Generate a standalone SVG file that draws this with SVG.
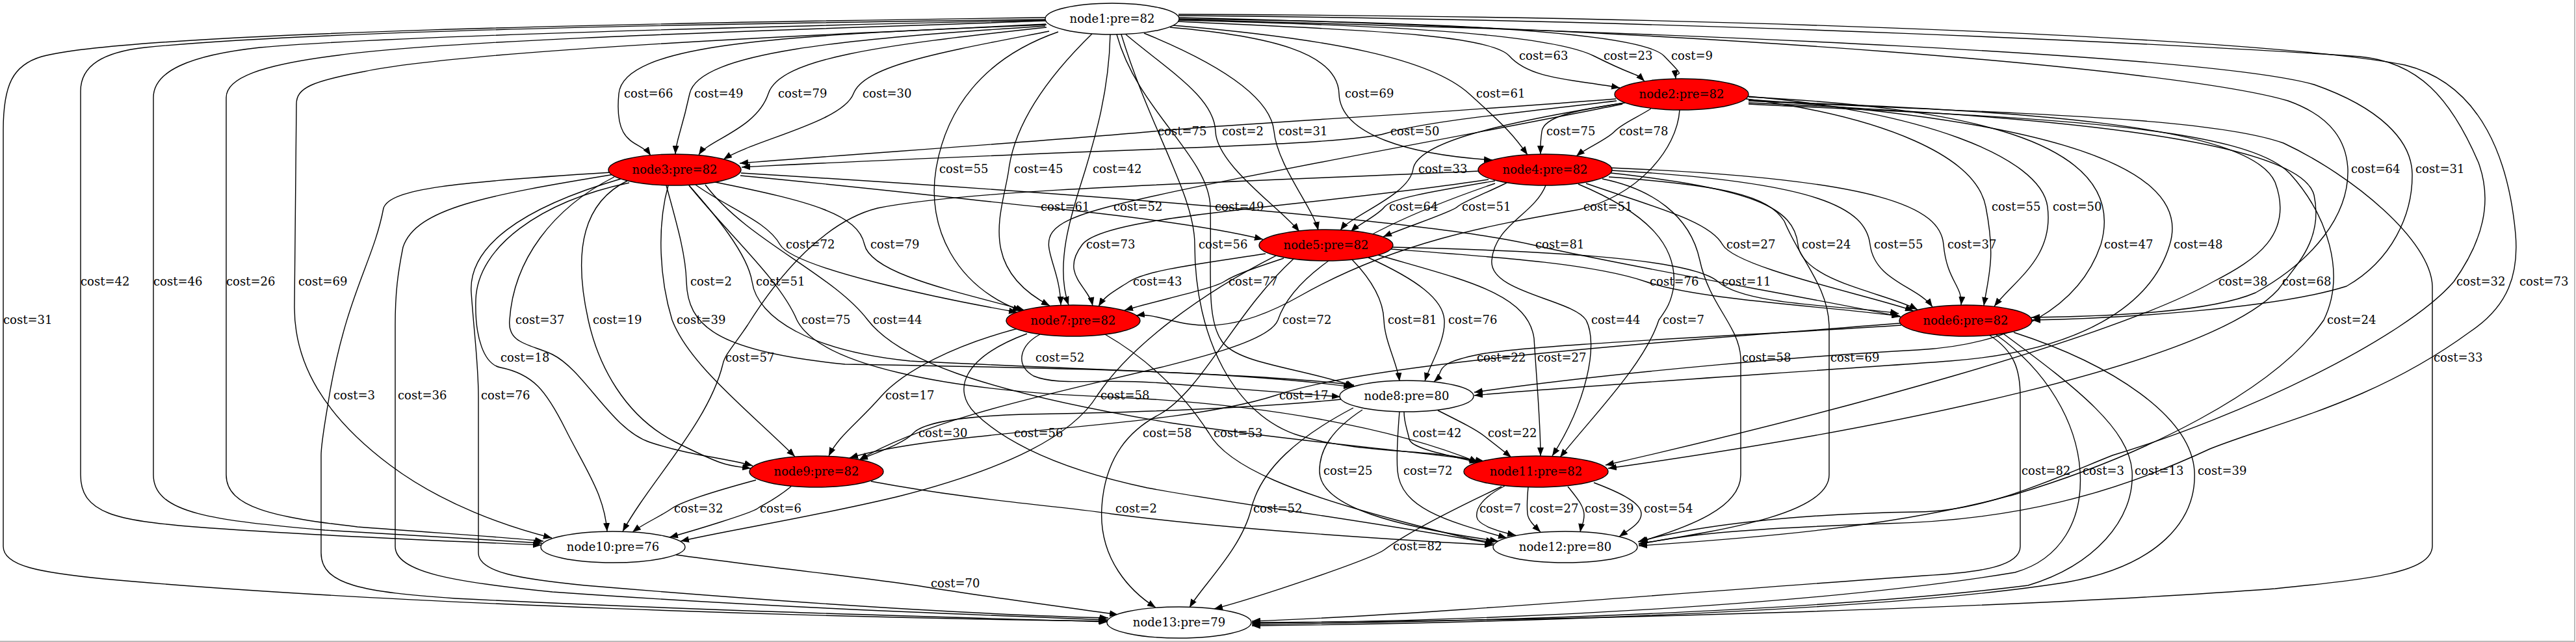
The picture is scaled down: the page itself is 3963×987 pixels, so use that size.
<svg xmlns="http://www.w3.org/2000/svg" width="3963" height="987" viewBox="0 0 3963 987">
<style>
text{font-family:"DejaVu Serif","Liberation Serif",serif;font-size:18px;fill:#000}
.e path{fill:none;stroke:#000;stroke-width:1.4;marker-end:url(#a)}
.n ellipse{stroke:#000;stroke-width:1.4}
.w{fill:#fff}.r{fill:#ff0000}
.n text{text-anchor:middle}
</style>
<defs><marker id="a" markerWidth="14" markerHeight="10" refX="13" refY="5" orient="auto" markerUnits="userSpaceOnUse"><path d="M0,0 L13,5 L0,10 z" fill="#000"/></marker></defs>
<rect width="3963" height="987" fill="#fff"/>
<path d="M3961,0 V986 H0" fill="none" stroke="#bbb" stroke-width="2"/>
<g id="connectors" class="e">
<path d="M1813,33 C2050,45 2290,50 2322,86 S2420,122 2492,135"/>
<path d="M1813,31 C2100,38 2380,50 2452,86 S2515,110 2530,125"/>
<path d="M1813,29 C2150,33 2520,45 2560,86 S2576,105 2578,121"/>
<path d="M1609,37 C1250,55 960,60 952,144 S985,215 1001,239"/>
<path d="M1608,40 C1300,60 1075,80 1061,144 S1040,215 1039,237"/>
<path d="M1610,42 C1350,70 1200,90 1182,144 S1090,215 1075,238"/>
<path d="M1614,48 C1450,80 1330,100 1313,144 S1160,215 1113,245"/>
<path d="M1800,42 C1950,55 2058,80 2060,144 S2170,238 2296,246"/>
<path d="M1805,39 C2050,60 2200,90 2260,144 S2330,210 2350,238"/>
<path d="M2486,152 C2200,175 1900,190 1774,202 S1300,238 1138,251"/>
<path d="M1732,53 C1800,110 1868,150 1870,202 S1970,320 1999,356"/>
<path d="M1760,51 C1880,100 1955,150 1960,202 S2020,320 2028,354"/>
<path d="M2487,155 C2350,172 2200,185 2132,205 S1700,228 1141,257"/>
<path d="M2500,158 C2420,170 2375,180 2372,202 S2370,225 2370,237"/>
<path d="M2540,167 C2520,180 2495,190 2484,202 S2440,228 2425,240"/>
<path d="M1628,49 C1510,90 1455,170 1440,260 S1470,440 1571,478"/>
<path d="M1680,52 C1600,130 1560,200 1552,260 S1500,410 1615,470"/>
<path d="M1708,53 C1706,140 1685,210 1670,260 S1620,400 1644,469"/>
<path d="M2500,158 C2300,190 2180,220 2174,260 S2080,330 2062,354"/>
<path d="M1813,27 C2600,45 3350,105 3520,155 C3590,180 3610,220 3612,260 C3614,330 3560,400 3470,450 C3400,480 3250,486 3125,488"/>
<path d="M1813,30 C2600,50 3400,85 3560,130 C3660,165 3710,215 3711,267 C3712,330 3680,400 3610,440 C3500,475 3250,490 3126,492"/>
<path d="M1139,270 C1350,290 1500,308 1598,318 S1850,345 1943,368"/>
<path d="M2496,160 C2250,210 1850,280 1705,318 S1630,380 1632,469"/>
<path d="M1718,53 C1750,170 1860,240 1862,318 C1864,420 1855,490 1880,525 S2000,565 2084,594"/>
<path d="M2300,278 C2200,295 2140,305 2130,318 S2090,345 2078,356"/>
<path d="M2318,281 C2280,300 2250,310 2242,318 S2160,350 2128,364"/>
<path d="M2584,169 C2580,230 2520,300 2430,322 C2300,345 2150,370 2000,455 S1800,478 1748,485"/>
<path d="M2686,152 C2900,180 3040,240 3055,318 S3060,420 3052,470"/>
<path d="M2688,148 C2950,170 3140,240 3150,318 S3100,430 3068,471"/>
<path d="M1070,284 C1120,320 1180,340 1200,376 S1450,460 1565,480"/>
<path d="M1100,280 C1250,310 1320,330 1330,376 S1480,450 1576,477"/>
<path d="M2290,276 C2000,320 1700,330 1665,376 S1675,440 1681,470"/>
<path d="M1725,53 C1770,200 1838,300 1838,376 C1838,520 1900,640 2000,670 S2230,690 2273,711"/>
<path d="M1140,266 C1700,300 2200,340 2356,376 S2800,460 2924,487"/>
<path d="M2440,282 C2550,320 2630,340 2650,376 S2880,455 2944,478"/>
<path d="M2478,266 C2700,290 2760,320 2766,376 S2900,450 2950,476"/>
<path d="M2479,262 C2800,280 2870,320 2877,376 S2950,440 2973,472"/>
<path d="M2478,258 C2900,275 2985,320 2990,376 S3020,440 3017,469"/>
<path d="M2690,149 C3000,165 3280,210 3232,376 C3200,470 3100,530 2950,538 S2500,570 2268,603"/>
<path d="M2690,153 C3080,180 3380,240 3338,376 C3310,470 3200,540 3000,555 S2400,595 2268,608"/>
<path d="M1608,30 C1200,35 500,45 223,73 C160,80 124,100 124,140 L124,730 C124,790 180,800 300,810 C500,825 700,832 833,838"/>
<path d="M1608,31 C1200,40 600,55 400,73 C290,85 236,110 236,150 L236,730 C236,790 330,800 500,815 C650,825 760,830 834,835"/>
<path d="M1609,32 C1250,45 700,60 520,85 C400,100 348,120 348,150 L348,730 C348,780 420,795 550,810 C680,820 780,826 836,832"/>
<path d="M1610,38 C1200,55 700,80 560,110 C480,125 456,135 456,160 L453,470 C452,560 500,640 600,715 C680,775 780,810 849,827"/>
<path d="M1025,285 C1040,340 1055,390 1056,433 C1058,500 1100,540 1300,560 C1600,565 1900,570 2080,595"/>
<path d="M1060,285 C1100,330 1150,390 1157,433 C1165,490 1250,540 1400,555 C1700,570 1950,575 2083,592"/>
<path d="M1947,390 C1850,405 1765,415 1737,433 S1700,455 1690,471"/>
<path d="M1975,397 C1930,412 1900,422 1883,433 S1780,462 1730,477"/>
<path d="M2140,383 C2300,395 2450,405 2532,433 S2800,470 2923,486"/>
<path d="M2141,380 C2350,385 2600,395 2643,433 S2850,470 2921,482"/>
<path d="M2690,155 C3100,170 3460,190 3500,280 C3530,360 3470,400 3405,433 C3250,520 2800,640 2470,715"/>
<path d="M2690,158 C3200,180 3540,220 3560,300 C3575,370 3530,410 3505,445 C3400,560 2900,660 2474,720"/>
<path d="M1813,24 C2600,30 3400,70 3630,87 C3720,95 3770,150 3813,250 C3835,310 3820,370 3775,433 C3700,520 3450,640 3250,700 C3150,740 3050,787 2950,787 C2750,790 2600,810 2520,833"/>
<path d="M1813,22 C2700,25 3500,60 3700,100 C3820,130 3860,250 3870,360 C3875,420 3860,470 3800,510 C3650,620 3500,650 3400,690 C3250,760 3100,800 2900,805 C2700,812 2600,820 2521,837"/>
<path d="M1608,27 C1000,35 200,50 64,87 C20,100 5,130 5,200 L5,840 C5,870 60,880 160,890 C600,930 1300,950 1703,955"/>
<path d="M945,272 C850,320 790,400 784,492 C780,530 820,530 850,545 C900,570 940,660 1000,680 C1060,700 1120,705 1158,716"/>
<path d="M965,278 C900,310 880,380 905,492 C920,560 960,640 1040,680 S1120,715 1155,720"/>
<path d="M1028,285 C1010,350 1015,430 1034,492 C1060,560 1150,630 1223,702"/>
<path d="M1060,285 C1120,360 1200,430 1226,492 C1260,560 1450,600 1700,610 C1950,620 2150,660 2274,711"/>
<path d="M1085,284 C1150,370 1280,420 1335,492 C1380,550 1500,600 1800,650 C2000,680 2150,690 2283,709"/>
<path d="M2300,282 C2100,350 1990,420 1966,492 C1940,560 1500,600 1322,707"/>
<path d="M2080,399 C2110,430 2128,460 2129,492 S2150,560 2153,586"/>
<path d="M2105,396 C2180,430 2220,460 2222,492 S2200,560 2192,586"/>
<path d="M2378,285 C2360,330 2300,345 2295,400 C2290,450 2420,460 2440,492 C2460,530 2440,620 2388,701"/>
<path d="M2428,283 C2540,330 2580,380 2575,440 C2570,470 2560,480 2552,492 C2530,560 2450,640 2400,703"/>
<path d="M2690,160 C3100,180 3450,190 3523,267 C3580,330 3610,420 3575,492 C3500,600 3300,700 3100,760 C2900,815 2650,830 2521,839"/>
<path d="M968,281 C830,310 735,380 732,460 C730,520 745,560 770,565 C820,575 840,600 870,660 S930,760 934,817"/>
<path d="M2275,263 C1900,280 1500,290 1350,320 C1270,340 1200,420 1150,500 C1130,530 1115,545 1112,560 C1090,650 1000,740 958,817"/>
<path d="M1600,514 C1570,530 1560,560 1590,578 C1630,595 1700,580 1800,590 C1900,598 2000,605 2062,610"/>
<path d="M2925,500 C2700,515 2350,530 2275,545 S2225,570 2206,587"/>
<path d="M2120,392 C2250,430 2350,450 2360,520 C2365,600 2370,650 2370,701"/>
<path d="M2465,275 C2540,290 2600,330 2615,400 C2630,470 2675,500 2678,550 L2678,730 C2678,780 2600,810 2522,833"/>
<path d="M2475,272 C2650,285 2720,300 2745,340 C2770,400 2812,440 2814,500 L2814,730 C2814,790 2650,815 2521,836"/>
<path d="M2690,155 C3100,175 3400,180 3513,220 C3620,270 3740,370 3742,440 L3742,840 C3740,880 3650,890 3500,905 C3100,935 2400,955 1926,957"/>
<path d="M940,265 C700,280 600,290 590,320 C575,400 535,450 508,600 C500,650 494,680 494,700 L494,850 C494,900 560,910 700,920 C1100,940 1500,950 1704,956"/>
<path d="M945,268 C750,300 640,320 620,380 C612,420 608,450 608,500 L608,840 C608,880 700,895 850,910 C1200,935 1500,945 1704,953"/>
<path d="M955,275 C800,320 720,380 725,450 C730,520 736,560 736,610 L736,850 C736,880 800,890 900,900 C1200,925 1500,945 1705,950"/>
<path d="M1566,505 C1470,530 1390,570 1355,610 S1290,670 1275,701"/>
<path d="M1963,393 C1850,450 1740,530 1688,608 C1650,670 1550,720 1383,763 C1250,795 1120,815 1047,832"/>
<path d="M2923,497 C2500,530 2100,560 1962,608 C1800,660 1450,660 1307,704"/>
<path d="M2063,614 C1900,630 1700,635 1574,637 C1480,640 1420,650 1405,666 S1350,695 1322,707"/>
<path d="M1580,513 C1480,550 1465,600 1500,635 C1530,665 1600,715 1765,750 C1900,775 2100,800 2298,836"/>
<path d="M1990,398 C1900,480 1850,600 1784,637 C1740,660 1700,700 1695,780 C1690,860 1740,910 1778,934"/>
<path d="M1700,514 C1780,560 1830,620 1860,666 C1890,720 2000,760 2150,800 S2280,830 2299,833"/>
<path d="M2160,633 C2160,650 2165,660 2168,675 S2230,700 2274,711"/>
<path d="M2212,631 C2250,650 2270,660 2283,670 S2315,695 2325,703"/>
<path d="M2096,630 C2050,660 2030,690 2030,724 C2030,780 2150,810 2305,832"/>
<path d="M2153,633 C2150,670 2148,700 2150,724 C2155,780 2220,800 2318,827"/>
<path d="M3060,515 C3100,540 3108,570 3108,610 L3108,840 C3108,870 3050,880 2960,885 C2600,910 2200,945 1926,955"/>
<path d="M3070,514 C3150,570 3195,650 3200,724 C3205,800 3170,860 3100,880 C2800,930 2300,955 1926,958"/>
<path d="M3082,513 C3200,600 3275,660 3280,724 C3285,800 3220,870 3120,900 C2800,940 2300,955 1926,960"/>
<path d="M3098,511 C3250,560 3370,640 3376,724 C3380,800 3320,870 3180,895 C2900,940 2300,958 1926,962"/>
<path d="M1163,738 C1100,755 1050,770 1033,782 S990,805 973,818"/>
<path d="M1217,748 C1190,770 1175,775 1165,782 S1070,815 1030,826"/>
<path d="M1340,740 C1500,770 1650,780 1710,790 C1900,815 2150,830 2297,838"/>
<path d="M2082,627 C2000,670 1940,720 1925,782 S1850,900 1830,934"/>
<path d="M2315,747 C2280,765 2270,782 2272,795 S2310,818 2332,823"/>
<path d="M2351,749 C2349,770 2349,780 2350,790 S2362,810 2370,818"/>
<path d="M2412,748 C2430,770 2437,780 2437,792 S2432,812 2431,818"/>
<path d="M2452,742 C2500,760 2525,775 2525,790 S2505,815 2491,825"/>
<path d="M2310,748 C2200,800 2150,830 2130,845 S1930,920 1868,936"/>
<path d="M1040,853 C1200,875 1350,890 1428,903 S1650,935 1720,945"/>
<text x="2337" y="92">cost=63</text><text x="2467" y="92">cost=23</text><text x="2571" y="92">cost=9</text>
<text x="960" y="150">cost=66</text><text x="1068" y="150">cost=49</text><text x="1197" y="150">cost=79</text><text x="1327" y="150">cost=30</text><text x="2069" y="150">cost=69</text><text x="2271" y="150">cost=61</text>
<text x="1781" y="208">cost=75</text><text x="1880" y="208">cost=2</text><text x="1967" y="208">cost=31</text><text x="2139" y="208">cost=50</text><text x="2379" y="208">cost=75</text><text x="2491" y="208">cost=78</text>
<text x="1445" y="266">cost=55</text><text x="1560" y="266">cost=45</text><text x="1681" y="266">cost=42</text><text x="2182" y="266">cost=33</text><text x="3617" y="266">cost=64</text><text x="3716" y="266">cost=31</text>
<text x="1601" y="324">cost=61</text><text x="1713" y="324">cost=52</text><text x="1869" y="324">cost=49</text><text x="2137" y="324">cost=64</text><text x="2249" y="324">cost=51</text><text x="2436" y="324">cost=51</text><text x="3064" y="324">cost=55</text><text x="3158" y="324">cost=50</text>
<text x="1209" y="382">cost=72</text><text x="1339" y="382">cost=79</text><text x="1671" y="382">cost=73</text><text x="1844" y="382">cost=56</text><text x="2362" y="382">cost=81</text><text x="2656" y="382">cost=27</text><text x="2772" y="382">cost=24</text><text x="2883" y="382">cost=55</text><text x="2996" y="382">cost=37</text><text x="3237" y="382">cost=47</text><text x="3344" y="382">cost=48</text>
<text x="124" y="439">cost=42</text><text x="236" y="439">cost=46</text><text x="348" y="439">cost=26</text><text x="459" y="439">cost=69</text><text x="1062" y="439">cost=2</text><text x="1163" y="439">cost=51</text><text x="1743" y="439">cost=43</text><text x="1890" y="439">cost=77</text><text x="2538" y="439">cost=76</text><text x="2649" y="439">cost=11</text><text x="3413" y="439">cost=38</text><text x="3511" y="439">cost=68</text><text x="3779" y="439">cost=32</text><text x="3876" y="439">cost=73</text>
<text x="5" y="498">cost=31</text><text x="793" y="498">cost=37</text><text x="912" y="498">cost=19</text><text x="1041" y="498">cost=39</text><text x="1233" y="498">cost=75</text><text x="1343" y="498">cost=44</text><text x="1973" y="498">cost=72</text><text x="2135" y="498">cost=81</text><text x="2228" y="498">cost=76</text><text x="2448" y="498">cost=44</text><text x="2558" y="498">cost=7</text><text x="3580" y="498">cost=24</text>
<text x="770" y="556">cost=18</text><text x="1116" y="556">cost=57</text><text x="1593" y="556">cost=52</text><text x="2272" y="556">cost=22</text><text x="2365" y="556">cost=27</text><text x="2680" y="556">cost=58</text><text x="2816" y="556">cost=69</text><text x="3744" y="556">cost=33</text>
<text x="513" y="614">cost=3</text><text x="612" y="614">cost=36</text><text x="740" y="614">cost=76</text><text x="1362" y="614">cost=17</text><text x="1693" y="614">cost=58</text><text x="1968" y="614">cost=17</text>
<text x="1413" y="672">cost=30</text><text x="1560" y="672">cost=56</text><text x="1758" y="672">cost=58</text><text x="1867" y="672">cost=53</text><text x="2173" y="672">cost=42</text><text x="2289" y="672">cost=22</text>
<text x="2036" y="730">cost=25</text><text x="2159" y="730">cost=72</text><text x="3110" y="730">cost=82</text><text x="3204" y="730">cost=3</text><text x="3284" y="730">cost=13</text><text x="3381" y="730">cost=39</text>
<text x="1037" y="788">cost=32</text><text x="1169" y="788">cost=6</text><text x="1716" y="788">cost=2</text><text x="1928" y="788">cost=52</text><text x="2276" y="788">cost=7</text><text x="2353" y="788">cost=27</text><text x="2438" y="788">cost=39</text><text x="2529" y="788">cost=54</text>
<text x="2143" y="846">cost=82</text><text x="1432" y="903">cost=70</text>
</g>
<g id="node1" class="n"><ellipse class="w" cx="1711" cy="29" rx="103" ry="24"/><text x="1711" y="35">node1:pre=82</text></g>
<g id="node2" class="n"><ellipse class="r" cx="2587" cy="145" rx="103" ry="24"/><text x="2587" y="151">node2:pre=82</text></g>
<g id="node3" class="n"><ellipse class="r" cx="1038" cy="261" rx="102" ry="24"/><text x="1038" y="267">node3:pre=82</text></g>
<g id="node4" class="n"><ellipse class="r" cx="2377" cy="261" rx="103" ry="24"/><text x="2377" y="267">node4:pre=82</text></g>
<g id="node5" class="n"><ellipse class="r" cx="2040" cy="377" rx="103" ry="24"/><text x="2040" y="383">node5:pre=82</text></g>
<g id="node6" class="n"><ellipse class="r" cx="3024" cy="493" rx="102" ry="24"/><text x="3024" y="499">node6:pre=82</text></g>
<g id="node7" class="n"><ellipse class="r" cx="1651" cy="493" rx="103" ry="24"/><text x="1651" y="499">node7:pre=82</text></g>
<g id="node8" class="n"><ellipse class="w" cx="2164" cy="609" rx="103" ry="24"/><text x="2164" y="615">node8:pre=80</text></g>
<g id="node9" class="n"><ellipse class="r" cx="1256" cy="725" rx="103" ry="24"/><text x="1256" y="731">node9:pre=82</text></g>
<g id="node11" class="n"><ellipse class="r" cx="2363" cy="725" rx="111" ry="24"/><text x="2363" y="731">node11:pre=82</text></g>
<g id="node10" class="n"><ellipse class="w" cx="943" cy="841" rx="111" ry="24"/><text x="943" y="847">node10:pre=76</text></g>
<g id="node12" class="n"><ellipse class="w" cx="2408" cy="841" rx="111" ry="24"/><text x="2408" y="847">node12:pre=80</text></g>
<g id="node13" class="n"><ellipse class="w" cx="1814" cy="957" rx="111" ry="24"/><text x="1814" y="963">node13:pre=79</text></g>
</svg>
